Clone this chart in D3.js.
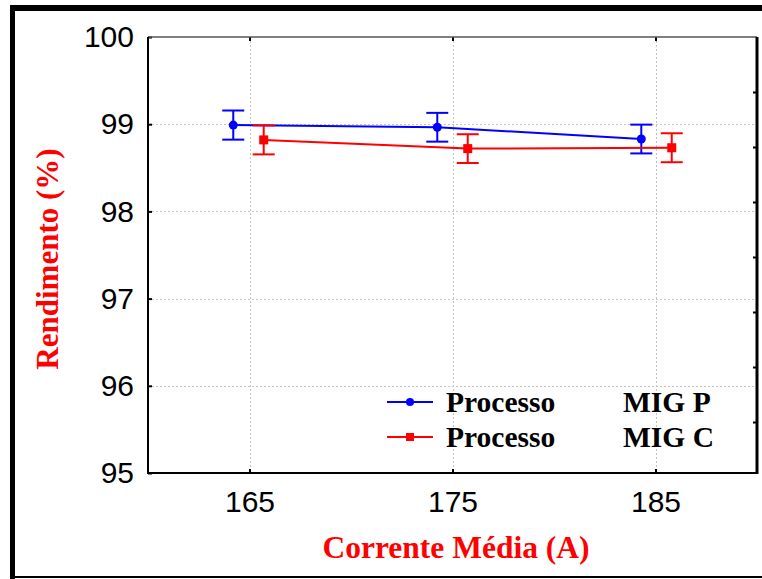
<!DOCTYPE html>
<html><head><meta charset="utf-8">
<script src="https://cdn.jsdelivr.net/npm/d3@7"></script>
<style>html,body{margin:0;padding:0;background:#fff;}svg{display:block;}</style>
</head><body>
<svg id="chart" width="762" height="579"></svg>
<script>
// ---- data ----
const seriesNames = ["Processo", "Processo"];
const seriesTags = ["MIG P", "MIG C"];
const xMIGP = [164.2, 174.25, 184.3];
const yMIGP = [98.99, 98.965, 98.83];
const eMIGP = [0.167, 0.165, 0.165];
const xMIGC = [165.7, 175.75, 185.8];
const yMIGC = [98.82, 98.72, 98.73];
const eMIGC = [0.166, 0.165, 0.166];
const xTicks = [165, 175, 185];
const yTicks = [95, 96, 97, 98, 99, 100];
const rightTicks = [1, 2, 3, 4, 5, 6, 7];
const xTitle = "Corrente Média (A)";
const yTitle = "Rendimento (%)";

const svg = d3.select("#chart");
const L = 148, R = 757, T = 37, B = 473;
const x = d3.scaleLinear().domain([160, 190]).range([L, R]);
const y = d3.scaleLinear().domain([95, 100]).range([B, T]);
const yR = d3.scaleLinear().domain([0, (B - T) / 55]).range([T, B]);

// outer frame
svg.append("rect").attr("x", 10).attr("y", 5).attr("width", 5).attr("height", 574).attr("fill", "#000");
svg.append("rect").attr("x", 10).attr("y", 5).attr("width", 752).attr("height", 6).attr("fill", "#000");
svg.append("rect").attr("x", 10).attr("y", 576).attr("width", 752).attr("height", 2).attr("fill", "#000");

// gridlines
const grid = svg.append("g").attr("stroke", "#c4c4c4").attr("stroke-width", 1).attr("stroke-dasharray", "2,2");
grid.selectAll("line.gx").data(xTicks).join("line")
  .attr("x1", d => Math.round(x(d)) + 0.5).attr("x2", d => Math.round(x(d)) + 0.5)
  .attr("y1", T).attr("y2", B);
grid.selectAll("line.gy").data(yTicks.slice(1, -1)).join("line")
  .attr("x1", L).attr("x2", R)
  .attr("y1", d => Math.round(y(d)) + 0.5).attr("y2", d => Math.round(y(d)) + 0.5);

// axes
const fontAx = "'Liberation Sans', Arial, sans-serif";
const gx = svg.append("g").attr("transform", `translate(0,${B})`)
  .call(d3.axisBottom(x).tickValues(xTicks).tickFormat(d3.format("d")).tickSizeInner(-4).tickSizeOuter(0).tickPadding(18));
const gxTop = svg.append("g").attr("transform", `translate(0,${T})`)
  .call(d3.axisTop(x).tickValues(xTicks).tickSizeInner(-4).tickSizeOuter(0).tickFormat(""));
const gy = svg.append("g").attr("transform", `translate(${L},0)`)
  .call(d3.axisLeft(y).tickValues(yTicks).tickFormat(d3.format("d")).tickSizeInner(-4).tickSizeOuter(0).tickPadding(14));
const gyR = svg.append("g").attr("transform", `translate(${R},0)`)
  .call(d3.axisRight(yR).tickValues(rightTicks).tickSizeInner(-4).tickSizeOuter(0).tickFormat(""));
[gx, gxTop, gy, gyR].forEach(g => {
  g.select(".domain").remove();
  g.selectAll(".tick line").attr("stroke", "#000").attr("stroke-width", 2);
  g.selectAll("text").attr("font-family", fontAx).attr("font-size", 30).attr("fill", "#000");
});
gx.selectAll("text").attr("dy", "0.71em");

// plot frame
svg.append("line").attr("x1", L).attr("x2", R).attr("y1", T).attr("y2", T).attr("stroke", "#555").attr("stroke-width", 1.5);
svg.append("line").attr("x1", L).attr("x2", L).attr("y1", T).attr("y2", B + 1).attr("stroke", "#000").attr("stroke-width", 2);
svg.append("line").attr("x1", L - 1).attr("x2", R + 1).attr("y1", B).attr("y2", B).attr("stroke", "#000").attr("stroke-width", 2);
svg.append("line").attr("x1", R).attr("x2", R).attr("y1", T).attr("y2", B + 1).attr("stroke", "#000").attr("stroke-width", 3);

// series
function drawSeries(xs, ys, es, color, shape) {
  const pts = xs.map((d, i) => ({ x: d, y: ys[i], e: es[i] }));
  const g = svg.append("g");
  g.append("path").datum(pts)
    .attr("d", d3.line().x(d => x(d.x)).y(d => y(d.y)))
    .attr("fill", "none").attr("stroke", color).attr("stroke-width", 2);
  const eb = g.selectAll("g.eb").data(pts).join("g").attr("stroke", color).attr("stroke-width", 2);
  eb.append("line").attr("x1", d => x(d.x)).attr("x2", d => x(d.x)).attr("y1", d => y(d.y - d.e)).attr("y2", d => y(d.y + d.e));
  eb.append("line").attr("x1", d => x(d.x) - 11).attr("x2", d => x(d.x) + 11).attr("y1", d => y(d.y + d.e)).attr("y2", d => y(d.y + d.e));
  eb.append("line").attr("x1", d => x(d.x) - 11).attr("x2", d => x(d.x) + 11).attr("y1", d => y(d.y - d.e)).attr("y2", d => y(d.y - d.e));
  if (shape === "circle") {
    g.selectAll("circle").data(pts).join("circle").attr("cx", d => x(d.x)).attr("cy", d => y(d.y)).attr("r", 4.5).attr("fill", color);
  } else {
    g.selectAll("rect").data(pts).join("rect").attr("x", d => x(d.x) - 4.5).attr("y", d => y(d.y) - 4.5).attr("width", 9).attr("height", 9).attr("fill", color);
  }
}
drawSeries(xMIGP, yMIGP, eMIGP, "#0000ff", "circle");
drawSeries(xMIGC, yMIGC, eMIGC, "#ff0000", "square");

// legend
const fontSerif = "'Liberation Serif', 'Times New Roman', serif";
const legColors = ["#0000ff", "#ff0000"];
const legShapes = ["circle", "square"];
const leg = svg.append("g");
seriesNames.forEach((name, i) => {
  const ly = 402 + i * 35;
  leg.append("line").attr("x1", 387).attr("x2", 433).attr("y1", ly).attr("y2", ly).attr("stroke", legColors[i]).attr("stroke-width", 2);
  if (legShapes[i] === "circle") leg.append("circle").attr("cx", 410).attr("cy", ly).attr("r", 4).attr("fill", legColors[i]);
  else leg.append("rect").attr("x", 406).attr("y", ly - 4).attr("width", 8).attr("height", 8).attr("fill", legColors[i]);
  leg.append("text").attr("x", 446).attr("y", ly + 10).attr("font-family", fontSerif).attr("font-weight", "bold").attr("font-size", 29.5).attr("fill", "#000").text(name);
  leg.append("text").attr("x", 623).attr("y", ly + 10).attr("font-family", fontSerif).attr("font-weight", "bold").attr("font-size", 29.5).attr("fill", "#000").text(seriesTags[i]);
});

// titles
svg.append("text").attr("x", 456).attr("y", 558).attr("text-anchor", "middle")
  .attr("font-family", fontSerif).attr("font-weight", "bold").attr("font-size", 31.5).attr("fill", "#ff0000").text(xTitle);
svg.append("text").attr("transform", "translate(58,259) rotate(-90)").attr("text-anchor", "middle")
  .attr("font-family", fontSerif).attr("font-weight", "bold").attr("font-size", 31).attr("fill", "#ff0000").text(yTitle);
</script>
</body></html>
